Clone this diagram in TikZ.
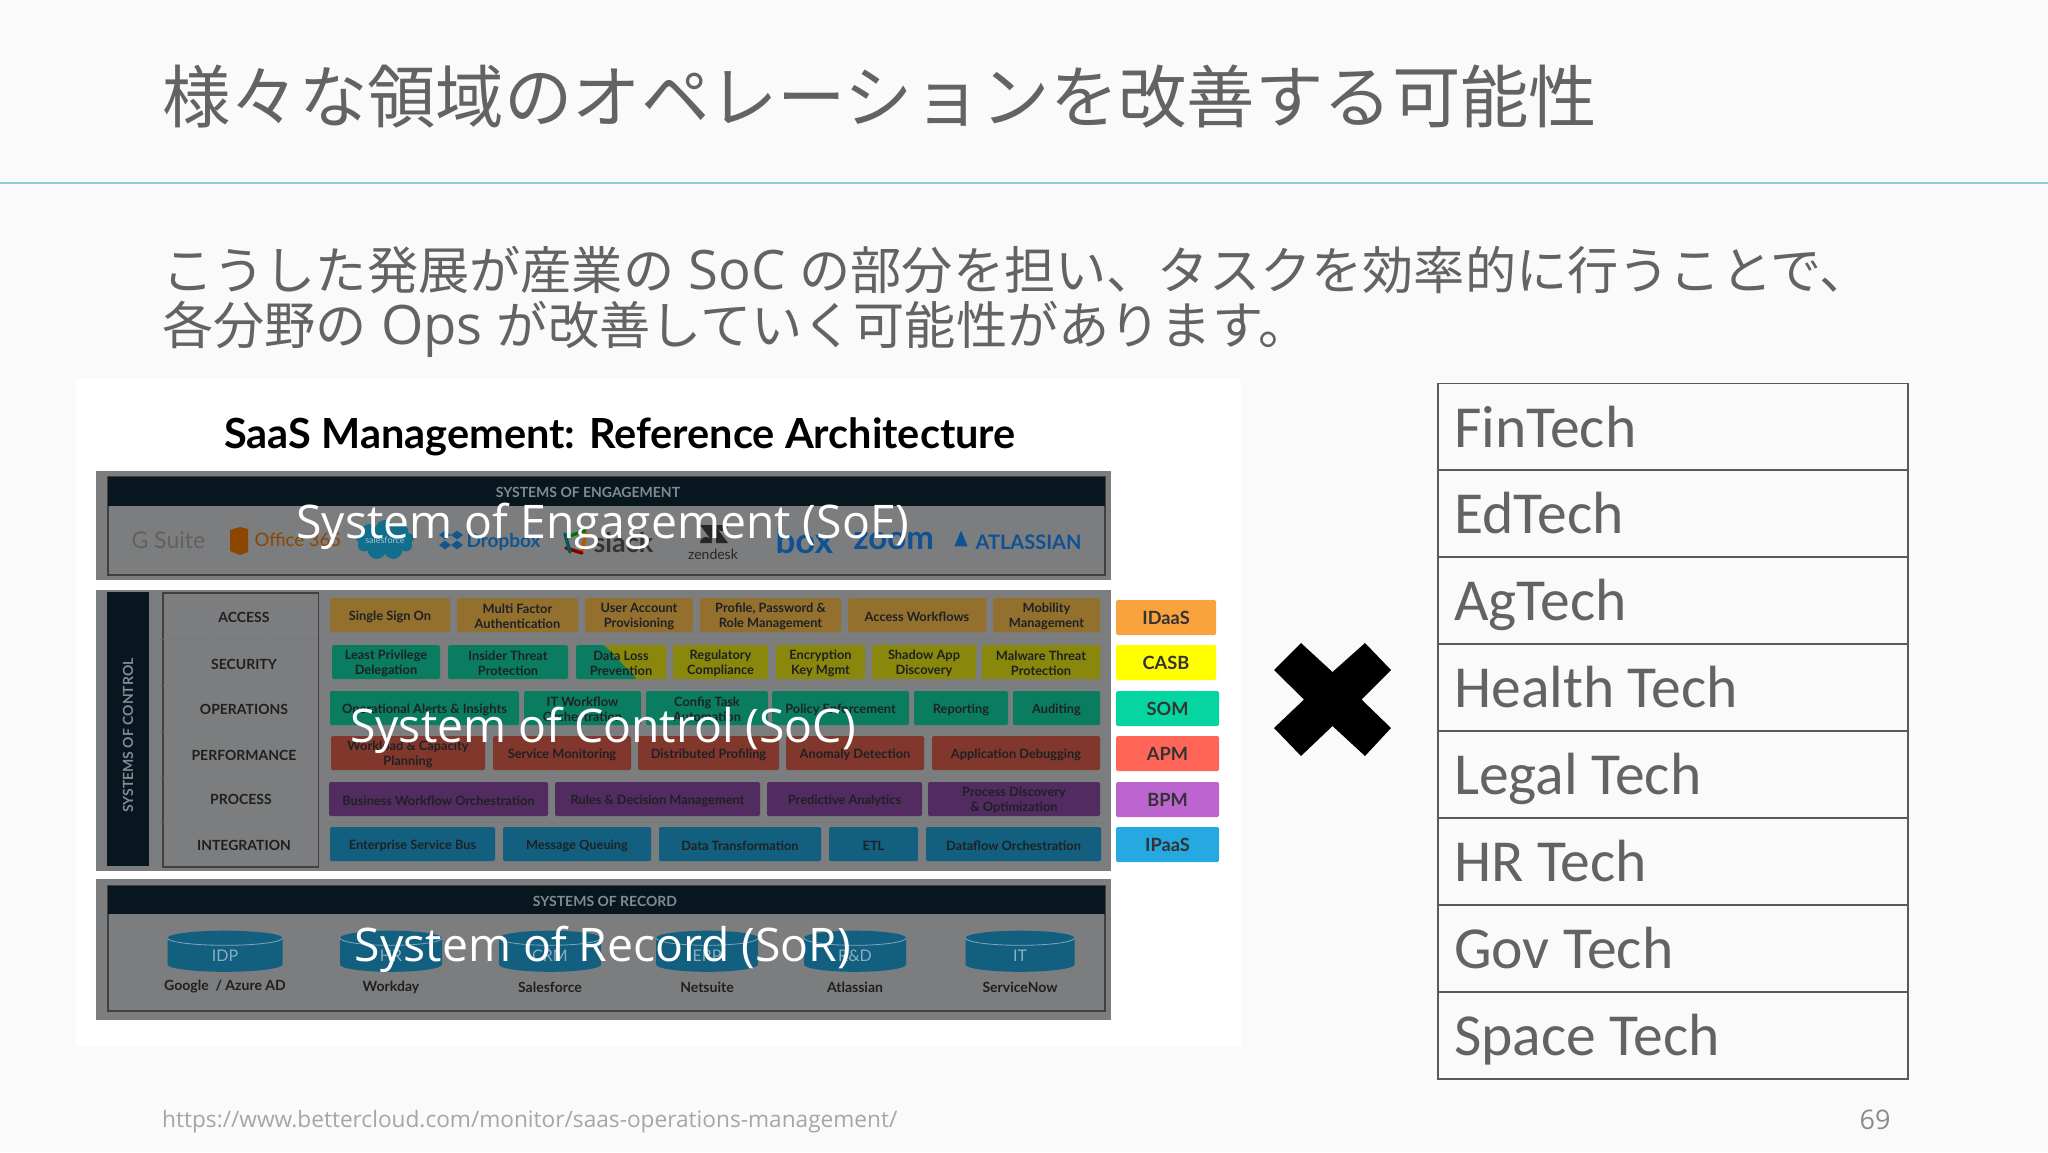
\documentclass[tikz,border=0pt]{standalone}
\usepackage{fontspec}
\setmainfont{Open Sans}
\newfontfamily\cjk{Noto Sans CJK JP}
\newfontfamily\calib{Carlito}
\newfontfamily\logofont{Lato}
\usetikzlibrary{shapes.geometric,shapes.symbols}
\definecolor{pagebg}{HTML}{FAFAFB}
\definecolor{rulecol}{HTML}{8CCBE3}
\definecolor{inkcol}{HTML}{636363}
\definecolor{panelgray}{HTML}{7B7D7F}
\definecolor{navy}{HTML}{07161F}
\definecolor{boxorange}{HTML}{94702E}
\definecolor{boxyellow}{HTML}{8A880C}
\definecolor{boxgreen}{HTML}{0A7D60}
\definecolor{boxred}{HTML}{82372D}
\definecolor{boxpurple}{HTML}{522B60}
\definecolor{boxblue}{HTML}{135F80}
\definecolor{boxink}{HTML}{1E2124}
\definecolor{tagorange}{HTML}{F8A33D}
\definecolor{tagyellow}{HTML}{FFFF00}
\definecolor{taggreen}{HTML}{05D5A0}
\definecolor{tagred}{HTML}{FF6657}
\definecolor{tagpurple}{HTML}{BC64CF}
\definecolor{tagblue}{HTML}{25A9E0}
\tikzset{
  x=1pt,y=-1pt,
  panel/.style={fill=panelgray,draw=none},
  band/.style={fill=navy,draw=none},
  inner/.style={draw=black!75,line width=1.2pt},
  cell/.style={rounded corners=1.5pt,draw=none},
  celltext/.style={font=\logofont\bfseries\fontsize{12.8}{14.5}\selectfont,text=boxink,align=center,yshift=-1.5pt},
  rowlabel/.style={font=\logofont\bfseries\fontsize{14}{15}\selectfont,text=black!88},
  bandtext/.style={font=\logofont\bfseries\fontsize{14}{15}\selectfont,text=white!50!navy},
  tag/.style={rounded corners=1.5pt,draw=none,font=\logofont\bfseries\fontsize{18.2}{20}\selectfont,text=black!80},
  overlay/.style={font=\fontsize{46.3}{50}\selectfont,text=white,yshift=-4pt},
  dbbody/.style={fill=boxblue,draw=none},
  dbrim/.style={draw=boxblue!55!white,line width=.8pt},
  dblabel/.style={font=\logofont\fontsize{16}{18}\selectfont,text=boxblue!50!white},
  dbname/.style={font=\logofont\bfseries\fontsize{14}{15}\selectfont,text=black!88},
  techrow/.style={draw=black!65,line width=1.8pt,anchor=north west,minimum width=470pt,minimum height=86.9pt},
  techtext/.style={font=\calib\fontsize{59.6}{60}\selectfont,text=inkcol},
  logo/.style={font=\logofont\fontsize{#1}{#1}\selectfont,anchor=west},
  rowdots/.style={dotted,line width=.8pt,black!55}
}
% box given by its corners, text in the middle
\newcommand{\cellbox}[7]{%
  \fill[cell,#1] (#3,#5) rectangle (#4,#6);
  \node[celltext] (#2) at ({(#3+#4)/2},{(#5+#6)/2}) {#7};}
\newcommand{\tagbox}[6]{%
  \node[tag,fill=#1,minimum width=#4pt-#3pt,minimum height=#6pt-#5pt,inner sep=0pt] (#2) at ({(#3+#4)/2},{(#5+#6)/2}) {#2};}
\newcommand{\latin}[1]{{\rmfamily\fontsize{54.4}{55.5}\selectfont\ #1\ }}
\begin{document}
\begin{tikzpicture}
\useasboundingbox (0,0) rectangle (2048,1152);
\fill[pagebg] (0,0) rectangle (2048,1152);
\draw[rulecol,line width=1.3pt] (0,183) -- (2048,183);
\node[anchor=west,inner sep=0pt,text=inkcol,font=\cjk\fontsize{68.4}{68}\selectfont] (title) at (162,97) {様々な領域のオペレーションを改善する可能性};
\node[anchor=west,inner sep=0pt,text=inkcol,font=\cjk\fontsize{51.2}{55.5}\selectfont,align=left] (lead) at (162,302) {こうした発展が産業の\latin{SoC}の部分を担い、タスクを効率的に行うことで、\\各分野の\latin{Ops}が改善していく可能性があります。};

% white picture panel
\fill[white] (76,379) rectangle (1241,1046);
\node[font=\logofont\bfseries\fontsize{41.5}{44}\selectfont,text=black] (saas) at (620,437) {SaaS Management: Reference Architecture};

% engagement
\fill[panel] (96,471) rectangle (1111,580);
\draw[inner] (108,477) rectangle (1105,575);
\fill[band] (108,477) rectangle (1105,506);
\node[bandtext] (soehead) at (588,492.5) {SYSTEMS OF ENGAGEMENT};
\node[logo=23,text=black!62] (gsuite) at (128,540) {G Suite};
\fill[black!45!orange] (230,530) -- (240,527) -- (248,529) -- (248,552) -- (240,555) -- (230,551) -- cycle;
\node[logo=18.5,text=black!45!orange] (office) at (251,540) {Office 365};
\node[cloud,cloud puffs=9,aspect=1.4,fill=boxblue!90!cyan,draw=none,minimum width=58pt,minimum height=40pt,inner sep=0pt] (sforce) at (385,540) {};
\node[font=\logofont\fontsize{9}{9}\selectfont,text=white!60!boxblue] at (sforce) {salesforce};
\node[logo=19,text=boxblue!90!blue,font=\logofont\bfseries\fontsize{19}{19}\selectfont] (dropbox) at (463,542) {Dropbox};
\foreach \dx/\dy in {445/535,457/535,445/545,457/545}
  \node[diamond,fill=boxblue!90!blue,minimum width=12pt,minimum height=9pt,inner sep=0pt] at (\dx,\dy) {};
\foreach \col/\ax/\ay/\bx/\by in {green!45!black/569/536/585/531,orange!70!black/582/551/586/533,red!50!black/566/548/582/553,teal!70!black/565/534/570/552}
  \draw[\col,line width=3.4pt,line cap=round] (\ax,\ay) -- (\bx,\by);
\node[logo=27,font=\logofont\bfseries\fontsize{27}{27}\selectfont,text=black!80] (slack) at (590,543) {slack};
\fill[black!85] (700,525) -- (712,525) -- (712,541) -- cycle;
\fill[black!85] (728,543) -- (716,543) -- (716,527) -- cycle;
\fill[black!85] (700,543) arc[start angle=180,end angle=0,radius=6pt] -- cycle;
\fill[black!85] (728,525) arc[start angle=0,end angle=-180,radius=6pt] -- cycle;
\node[font=\logofont\fontsize{14}{14}\selectfont,text=black!85] (zendesk) at (713,554) {zendesk};
\node[logo=35,font=\logofont\bfseries\fontsize{35}{35}\selectfont,text=boxblue!85!blue] (box) at (772,541) {box};
\node[logo=33,font=\logofont\bfseries\fontsize{33}{33}\selectfont,text=boxblue!85!blue] (zoom) at (850,541) {zoom};
\node[isosceles triangle,isosceles triangle apex angle=45,shape border rotate=90,fill=boxblue!85!blue,inner sep=0pt,minimum height=16pt] (atlicon) at (961,542) {};
\node[logo=20.5,font=\logofont\bfseries\fontsize{20}{21}\selectfont,text=boxblue!85!blue] (atlassian) at (972,542) {ATLASSIAN};

% control
\fill[panel] (96,590) rectangle (1111,871);
\fill[band] (107,592) rectangle (148.5,866);
\node[bandtext,rotate=90] (soccap) at (128,735.5) {SYSTEMS OF CONTROL};
\draw[inner] (163,593) rectangle (318.5,867);
\foreach \yy in {639.5,685,731,777,822} \draw[rowdots] (148.5,\yy) -- (1105,\yy);
\node[rowlabel] (access) at (244,617) {ACCESS};
\node[rowlabel] (security) at (244,664) {SECURITY};
\node[rowlabel] (operations) at (244,709) {OPERATIONS};
\node[rowlabel] (performance) at (244,755) {PERFORMANCE};
\node[rowlabel] (process) at (241,799) {PROCESS};
\node[rowlabel] (integration) at (244,845) {INTEGRATION};

\cellbox{boxorange}{a1}{330}{450}{598}{632}{Single Sign On}
\cellbox{boxorange}{a2}{457}{578}{598}{632}{Multi Factor\\Authentication}
\cellbox{boxorange}{a3}{585}{693}{598}{632}{User Account\\Provisioning}
\cellbox{boxorange}{a4}{700}{841}{598}{632}{Profile, Password \&\\Role Management}
\cellbox{boxorange}{a5}{848}{986}{598}{632}{Access Workflows}
\cellbox{boxorange}{a6}{993}{1100}{598}{632}{Mobility\\Management}

\cellbox{boxgreen}{s1}{332}{440}{645}{679}{Least Privilege\\Delegation}
\cellbox{boxgreen}{s2}{448}{568}{645}{679}{Insider Threat\\Protection}
\fill[cell,boxyellow] (576,645) rectangle (666,679);
\fill[boxgreen,rounded corners=1.5pt] (576,645) -- (604,645) -- (637,679) -- (576,679) -- cycle;
\node[celltext] (s3) at (621,662) {Data Loss\\Prevention};
\cellbox{boxyellow}{s4}{673}{768}{645}{679}{Regulatory\\Compliance}
\cellbox{boxyellow}{s5}{776}{865}{645}{679}{Encryption\\Key Mgmt}
\cellbox{boxyellow}{s6}{872}{976}{645}{679}{Shadow App\\Discovery}
\cellbox{boxyellow}{s7}{982}{1100}{645}{679}{Malware Threat\\Protection}

\cellbox{boxgreen}{o1}{330}{519}{691}{725}{Operational Alerts \& Insights}
\cellbox{boxgreen}{o2}{524}{641}{691}{725}{IT Workflow\\Orchestration}
\cellbox{boxgreen}{o3}{646}{768}{691}{725}{Config Task\\Automation}
\cellbox{boxgreen}{o4}{772}{909}{691}{725}{Policy Enforcement}
\cellbox{boxgreen}{o5}{914}{1008}{691}{725}{Reporting}
\cellbox{boxgreen}{o6}{1013}{1100}{691}{725}{Auditing}

\cellbox{boxred}{p1}{331}{485}{736}{770}{Workload \& Capacity\\Planning}
\cellbox{boxred}{p2}{493}{631}{736}{770}{Service Monitoring}
\cellbox{boxred}{p3}{638}{779}{736}{770}{Distributed Profiling}
\cellbox{boxred}{p4}{786}{924}{736}{770}{Anomaly Detection}
\cellbox{boxred}{p5}{932}{1100}{736}{770}{Application Debugging}

\cellbox{boxpurple}{b1}{329}{548}{782}{816}{Business Workflow Orchestration}
\cellbox{boxpurple}{b2}{555}{760}{782}{816}{Rules \& Decision Management}
\cellbox{boxpurple}{b3}{767}{922}{782}{816}{Predictive Analytics}
\cellbox{boxpurple}{b4}{928}{1100}{782}{816}{Process Discovery\\\& Optimization}

\cellbox{boxblue}{i1}{330}{495}{827}{861}{Enterprise Service Bus}
\cellbox{boxblue}{i2}{503}{651}{827}{861}{Message Queuing}
\cellbox{boxblue}{i3}{659}{821}{827}{861}{Data Transformation}
\cellbox{boxblue}{i4}{829}{918}{827}{861}{ETL}
\cellbox{boxblue}{i5}{926}{1101}{827}{861}{Dataflow Orchestration}

\tagbox{tagorange}{IDaaS}{1116}{1216}{600}{635}
\tagbox{tagyellow}{CASB}{1116}{1216}{645}{680}
\tagbox{taggreen}{SOM}{1116}{1219}{691}{726}
\tagbox{tagred}{APM}{1116}{1219}{736}{771}
\tagbox{tagpurple}{BPM}{1116}{1219}{782}{817}
\tagbox{tagblue}{IPaaS}{1116}{1219}{827}{862}

% record
\fill[panel] (96,879) rectangle (1111,1020);
\draw[inner] (108,886) rectangle (1105,1011);
\fill[band] (108,886) rectangle (1105,914);
\node[bandtext] (sorhead) at (605,901) {SYSTEMS OF RECORD};
\foreach \name/\lab/\cx/\wid/\sys in {idp/IDP/225/115/{Google\ \ / Azure AD},hr/HR/391/102/Workday,crm/CRM/550/102/Salesforce,erp/ERP/707/102/Netsuite,rd/R\&D/855/102/Atlassian,it/IT/1020/109/ServiceNow} {
  \fill[dbbody] ({\cx-\wid/2},938) arc[start angle=180,end angle=0,x radius={\wid/2*1pt},y radius=7.3pt] -- ({\cx+\wid/2},964.5) arc[start angle=0,end angle=-180,x radius={\wid/2*1pt},y radius=7.3pt] -- cycle;
  \draw[dbrim] ({\cx-\wid/2},938) arc[start angle=180,end angle=360,x radius={\wid/2*1pt},y radius=7.3pt];
  \node[dblabel] (\name) at (\cx,956) {\lab};
  \node[dbname] (\name sys) at (\cx,987) {\sys};
}

% white captions over the picture
\node[overlay] (soe) at (603,522) {System of Engagement (SoE)};
\node[overlay] (soc) at (603,726) {System of Control (SoC)};
\node[overlay] (sor) at (603,945) {System of Record (SoR)};

\fill[black] (1274,670) -- (1301,643) -- (1332.5,672) -- (1365,643) -- (1391,670) -- (1361.5,699.5) -- (1391,728) -- (1365,756) -- (1332.5,726) -- (1301,756) -- (1274,728) -- (1304,699.5) -- cycle;

% tech list
\foreach \nm [count=\i from 0] in {FinTech,EdTech,AgTech,Health Tech,Legal Tech,HR Tech,Gov Tech,Space Tech} {
  \node[techrow] (row\i) at (1437,382.5+\i*86.9) {};
  \node[techtext,anchor=base west,inner sep=0pt] at (1454,447+\i*86.9) {\nm};
}

\node[anchor=west,inner sep=0pt,text=black!35,font=\fontsize{22.65}{24}\selectfont] (url) at (162,1122) {https://www.bettercloud.com/monitor/saas-operations-management/};
\node[inner sep=0pt,text=black!45,font=\fontsize{27}{28}\selectfont] (pageno) at (1875,1120) {69};
\end{tikzpicture}
\end{document}
